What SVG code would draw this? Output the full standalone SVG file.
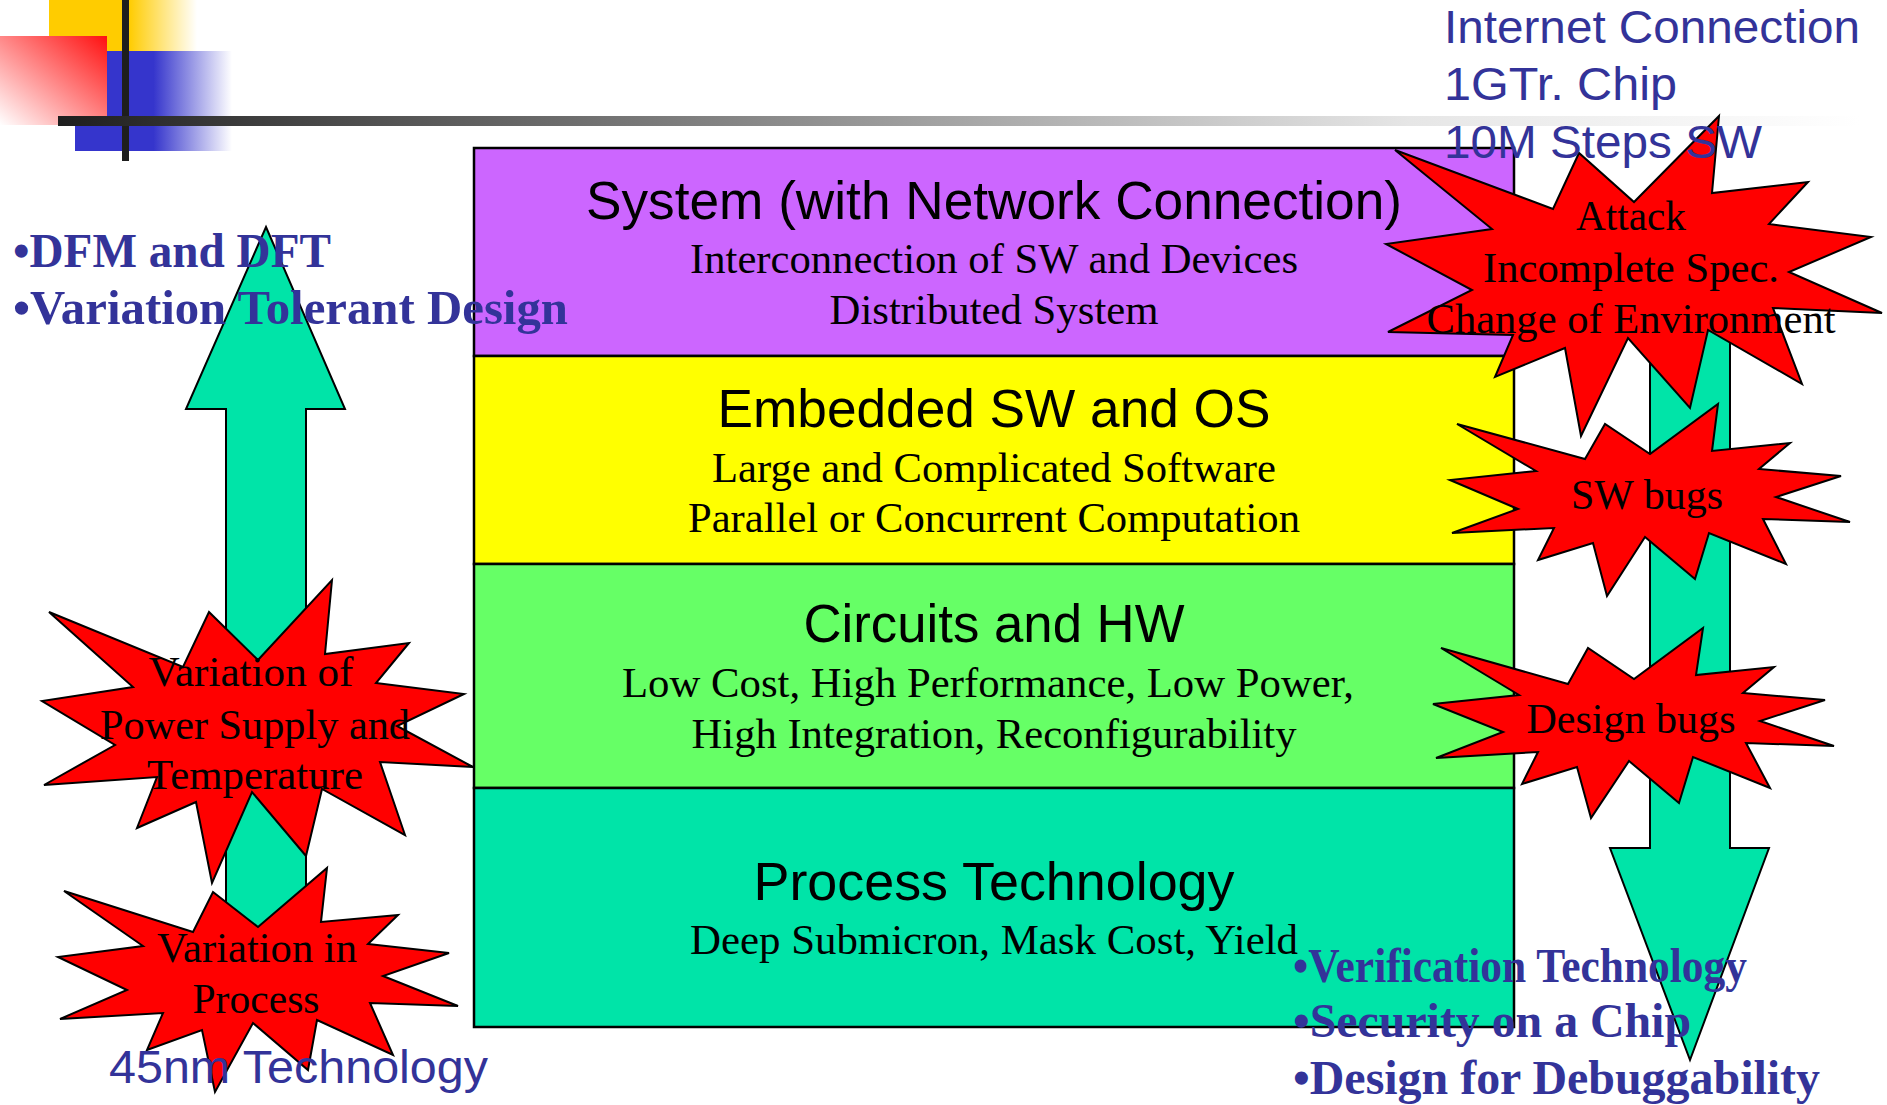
<svg xmlns="http://www.w3.org/2000/svg" width="1887" height="1105" viewBox="0 0 1887 1105">
  <defs>
    <linearGradient id="gYellow" x1="49" y1="0" x2="197" y2="0" gradientUnits="userSpaceOnUse">
      <stop offset="0" stop-color="#FFCC00"/>
      <stop offset="0.54" stop-color="#FFCC00"/>
      <stop offset="1" stop-color="#FFCC00" stop-opacity="0"/>
    </linearGradient>
    <linearGradient id="gBlue" x1="75" y1="0" x2="232" y2="0" gradientUnits="userSpaceOnUse">
      <stop offset="0" stop-color="#3535CC"/>
      <stop offset="0.5" stop-color="#3535CC"/>
      <stop offset="1" stop-color="#3535CC" stop-opacity="0"/>
    </linearGradient>
    <linearGradient id="gRed" x1="1" y1="0" x2="0" y2="1">
      <stop offset="0" stop-color="#FF1010"/>
      <stop offset="1" stop-color="#FFFFFF"/>
    </linearGradient>
    <linearGradient id="gBar" x1="58" y1="0" x2="1860" y2="0" gradientUnits="userSpaceOnUse">
      <stop offset="0" stop-color="#1E1E1E"/>
      <stop offset="0.19" stop-color="#555555"/>
      <stop offset="0.75" stop-color="#E6E6E6"/>
      <stop offset="1" stop-color="#FFFFFF"/>
    </linearGradient>
    <style>
      .layer { stroke: #000; stroke-width: 2.5; }
      .title { font-family: "Liberation Sans", Arial, sans-serif; font-size: 53px; fill: #000; text-anchor: middle; }
      .sub { font-family: "Liberation Serif", "Times New Roman", serif; font-size: 42.5px; fill: #000; text-anchor: middle; }
      .burst { fill: #FF0000; stroke: #000; stroke-width: 2; stroke-linejoin: miter; }
      .arrow { fill: #00E4A8; stroke: #000; stroke-width: 2; }
      .note { font-family: "Liberation Sans", Arial, sans-serif; font-size: 47px; fill: #333399; }
      .bullet { font-family: "Liberation Serif", "Times New Roman", serif; font-size: 47.5px; font-weight: bold; fill: #333399; }
    </style>
  </defs>

  <!-- corner decoration -->
  <g id="decor">
    <rect x="49" y="0" width="148" height="51" fill="url(#gYellow)"/>
    <rect x="75" y="51" width="157" height="100" fill="url(#gBlue)"/>
    <rect x="0" y="36" width="107" height="89" fill="url(#gRed)"/>
    <rect x="122" y="0" width="7" height="161" fill="#1E1E1E"/>
    <rect x="58" y="116" width="1802" height="10" fill="url(#gBar)"/>
  </g>

  <!-- layer stack -->
  <g id="layer-system">
    <rect class="layer" x="474" y="148" width="1040" height="208" fill="#CC66FF"/>
    <text class="title" x="994" y="219" textLength="816" lengthAdjust="spacingAndGlyphs">System (with Network Connection)</text>
    <text class="sub" x="994" y="273" textLength="608" lengthAdjust="spacingAndGlyphs">Interconnection of SW and Devices</text>
    <text class="sub" x="994" y="324" textLength="329" lengthAdjust="spacingAndGlyphs">Distributed System</text>
  </g>
  <g id="layer-embedded">
    <rect class="layer" x="474" y="356" width="1040" height="208" fill="#FFFF00"/>
    <text class="title" x="994" y="427" textLength="553" lengthAdjust="spacingAndGlyphs">Embedded SW and OS</text>
    <text class="sub" x="994" y="482" textLength="564" lengthAdjust="spacingAndGlyphs">Large and Complicated Software</text>
    <text class="sub" x="994" y="532" textLength="612" lengthAdjust="spacingAndGlyphs">Parallel or Concurrent Computation</text>
  </g>
  <g id="layer-circuits">
    <rect class="layer" x="474" y="564" width="1040" height="224" fill="#66FF66"/>
    <text class="title" x="994" y="642" textLength="381" lengthAdjust="spacingAndGlyphs">Circuits and HW</text>
    <text class="sub" x="988" y="697" textLength="732" lengthAdjust="spacingAndGlyphs">Low Cost, High Performance, Low Power,</text>
    <text class="sub" x="994" y="748" textLength="605" lengthAdjust="spacingAndGlyphs">High Integration, Reconfigurability</text>
  </g>
  <g id="layer-process">
    <rect class="layer" x="474" y="788" width="1040" height="239" fill="#00E4A8"/>
    <text class="title" x="994" y="900" textLength="481" lengthAdjust="spacingAndGlyphs">Process Technology</text>
    <text class="sub" x="994" y="954" textLength="608" lengthAdjust="spacingAndGlyphs">Deep Submicron, Mask Cost, Yield</text>
  </g>

  <!-- big up / down arrows -->
  <g id="connectors">
    <polygon class="arrow" points="266,227 345,409 306,409 306,960 226,960 226,409 186,409"/>
    <polygon class="arrow" points="1650,300 1730,300 1730,848 1769,848 1690,1060 1610,848 1650,848"/>
  </g>

  <!-- explosion callouts -->
  <g id="burst-attack">
    <polygon class="burst" points="1719,116 1712,193 1808,182 1769,224 1871,237 1789,272 1882,313 1773,308 1802,384 1708,330 1690,408 1628,338 1581,436 1565,348 1495,377 1513,335 1388,332 1472,290 1386,244 1492,229 1395,150 1553,209 1579,153 1634,202"/>
    <text class="sub" x="1631" y="230" textLength="110" lengthAdjust="spacingAndGlyphs">Attack</text>
    <text class="sub" x="1631" y="282" textLength="296" lengthAdjust="spacingAndGlyphs">Incomplete Spec.</text>
    <text class="sub" x="1631" y="333" textLength="409" lengthAdjust="spacingAndGlyphs">Change of Environment</text>
  </g>
  <g id="burst-sw">
    <polygon class="burst" points="1718,404 1712,451 1790,443 1759,469 1841,476 1776,497 1850,522 1763,519 1786,564 1709,533 1695,579 1645,537 1607,596 1593,543 1538,560 1554,528 1452,533 1518,509 1450,480 1536,471 1457,424 1585,459 1605,424 1650,454"/>
    <text class="sub" x="1647" y="509" textLength="152" lengthAdjust="spacingAndGlyphs">SW bugs</text>
  </g>
  <g id="burst-design">
    <polygon class="burst" points="1703,628 1696,675 1774,667 1743,693 1825,700 1760,721 1834,746 1746,743 1770,788 1693,757 1679,803 1629,761 1591,818 1577,767 1522,784 1538,752 1436,758 1503,732 1433,704 1519,695 1441,648 1568,684 1588,648 1634,679"/>
    <text class="sub" x="1631" y="733" textLength="209" lengthAdjust="spacingAndGlyphs">Design bugs</text>
  </g>
  <g id="burst-power">
    <polygon class="burst" points="332,580 325,654 409,643 376,683 464,694 397,726 473,767 380,762 405,835 322,789 306,856 252,792 212,883 196,802 137,828 157,777 44,785 115,745 42,701 133,687 49,612 183,667 209,612 258,660"/>
    <text class="sub" x="251" y="686" textLength="205" lengthAdjust="spacingAndGlyphs">Variation of</text>
    <text class="sub" x="255" y="739" textLength="310" lengthAdjust="spacingAndGlyphs">Power Supply and</text>
    <text class="sub" x="255" y="789" textLength="216" lengthAdjust="spacingAndGlyphs">Temperature</text>
  </g>
  <g id="burst-process">
    <polygon class="burst" points="327,868 321,922 398,915 368,944 449,953 383,976 458,1006 370,1003 393,1055 317,1020 308,1070 253,1023 215,1092 202,1030 147,1050 163,1013 60,1019 127,990 58,957 143,946 64,891 193,932 213,892 258,927"/>
    <text class="sub" x="257" y="962" textLength="200" lengthAdjust="spacingAndGlyphs">Variation in</text>
    <text class="sub" x="256" y="1013" textLength="127" lengthAdjust="spacingAndGlyphs">Process</text>
  </g>

  <!-- annotations -->
  <g id="note-top">
    <text class="note" x="1444" y="43" textLength="416" lengthAdjust="spacingAndGlyphs">Internet Connection</text>
    <text class="note" x="1444" y="100" textLength="233" lengthAdjust="spacingAndGlyphs">1GTr. Chip</text>
    <text class="note" x="1444" y="158" textLength="318" lengthAdjust="spacingAndGlyphs">10M Steps SW</text>
  </g>
  <g id="note-bottom">
    <text class="note" x="109" y="1083" textLength="379" lengthAdjust="spacingAndGlyphs">45nm Technology</text>
  </g>
  <g id="bullets-left">
    <text class="bullet" x="13" y="267" textLength="318" lengthAdjust="spacingAndGlyphs">•DFM and DFT</text>
    <text class="bullet" x="13" y="324" textLength="555" lengthAdjust="spacingAndGlyphs">•Variation Tolerant Design</text>
  </g>
  <g id="bullets-right">
    <text class="bullet" x="1293" y="982" textLength="454" lengthAdjust="spacingAndGlyphs">•Verification Technology</text>
    <text class="bullet" x="1293" y="1037" textLength="398" lengthAdjust="spacingAndGlyphs">•Security on a Chip</text>
    <text class="bullet" x="1293" y="1094" textLength="527" lengthAdjust="spacingAndGlyphs">•Design for Debuggability</text>
  </g>
</svg>
